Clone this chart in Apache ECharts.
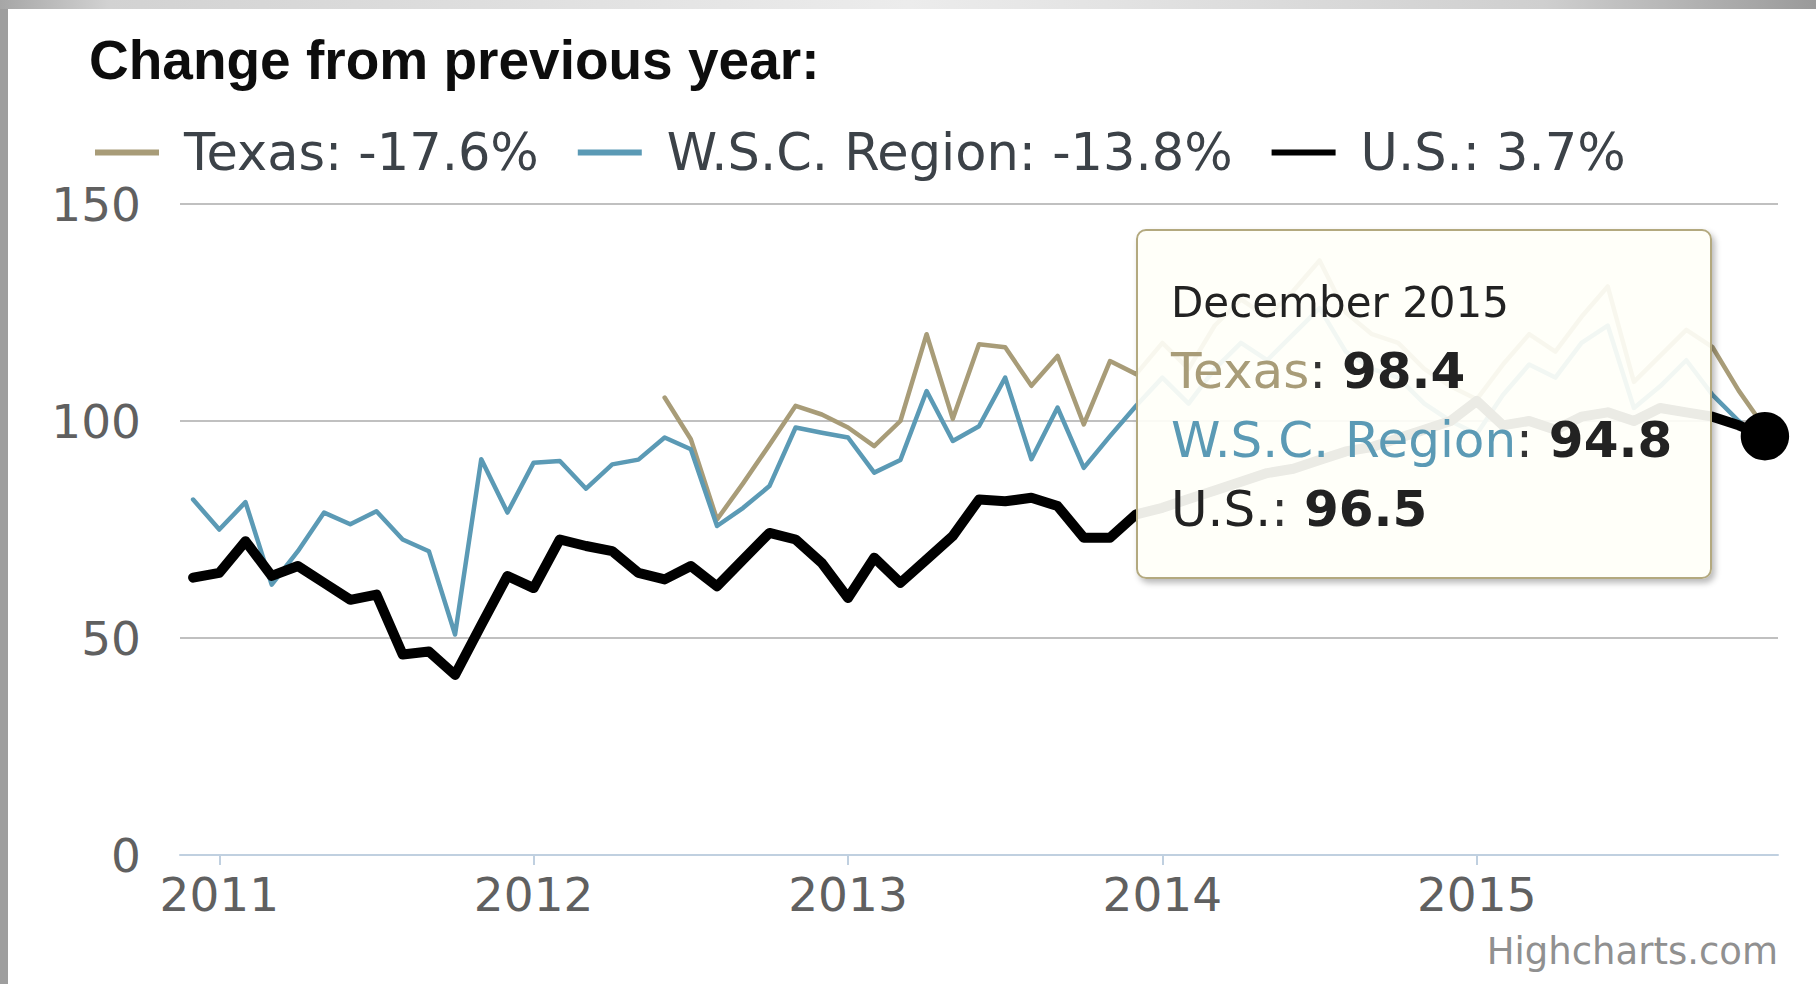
<!DOCTYPE html>
<html>
<head>
<meta charset="utf-8">
<script src="https://cdn.jsdelivr.net/npm/echarts@6/dist/echarts.min.js"></script>
<style>
  html, body { margin: 0; padding: 0; background: #ffffff; }
  #chart { width: 1816px; height: 984px; }
</style>
</head>
<body>
<div id="chart"></div>
<script>
// ---------- data ----------
const startYear = 2010;
const startMonth = 11; // December (0-based)
const monthNames = ['January','February','March','April','May','June','July','August','September','October','November','December'];
const seriesNames = ['Texas', 'W.S.C. Region', 'U.S.'];
const yearChange = ['-17.6%', '-13.8%', '3.7%'];

const texas = [null, null, null, null, null, null, null, null, null, null, null, null,
  null, null, null, null, null, null,
  105.4, 95.8, 77.3, 85.7, 94.5, 103.5, 101.5, 98.5, 94.2, 100.0, 120.0, 100.5,
  117.7, 117.0, 108.1, 115.0, 99.2, 113.8, 110.8, 118, 112, 122, 128, 124,
  130, 137, 125, 120, 118, 112, 108, 105, 113, 120, 116, 124,
  131, 109, 115, 121, 117, 107, 98.4];
const wsc = [81.9, 75.0, 81.3, 62.3, 70.0, 78.9, 76.2, 79.2, 72.7, 70.0, 50.8, 91.2,
  78.9, 90.4, 90.8, 84.4, 90.0, 91.1, 96.2, 93.5, 75.8, 80.0, 85.0, 98.5,
  97.3, 96.2, 88.1, 91.0, 106.9, 95.4, 98.8, 110.0, 91.2, 103.1, 89.2, 96.5,
  103.5, 110, 104, 112, 118, 114, 120, 126, 116, 112, 110, 104,
  100, 97, 106, 113, 110, 118, 122, 103, 108, 114, 106, 100, 94.8];
const us = [63.9, 65.0, 72.3, 64.3, 66.6, 62.7, 58.8, 60.0, 46.2, 46.9, 41.5, 53.0,
  64.3, 61.5, 72.7, 71.2, 70.0, 65.0, 63.5, 66.6, 61.9, 68.1, 74.2, 72.7,
  67.3, 59.2, 68.5, 62.7, 68.1, 73.5, 81.9, 81.5, 82.3, 80.4, 73.1, 73.1,
  78.5, 80, 82, 84, 86, 88, 89, 91, 93, 94, 96, 98,
  100, 104.6, 99, 100, 98, 101, 102, 100, 103, 102, 101, 99, 96.5];
const yMin = 0, yMax = 150, yStep = 50;

// month categories (December 2010 ... December 2015)
const categories = [];
for (let k = 0; k < us.length; k++) {
  const m = (startMonth + k) % 12;
  const y = startYear + Math.floor((startMonth + k) / 12);
  categories.push(monthNames[m] + ' ' + y);
}
const lastIndex = us.length - 1;

// ---------- chart ----------
const FONT = '"DejaVu Sans", Verdana, sans-serif';
const CSSFONT = "'DejaVu Sans', Verdana, sans-serif";
const colors = ['#a89c78', '#5b9ab5', '#000000'];
const isJanuary = (idx, val) => String(val).indexOf('January') === 0;

const chart = echarts.init(document.getElementById('chart'), null, { renderer: 'svg' });

chart.setOption({
  animation: false,
  backgroundColor: '#ffffff',
  color: colors,
  title: {
    text: 'Change from previous year:',
    left: 84,
    top: 27,
    textStyle: { fontFamily: '"Liberation Sans", Arial, sans-serif', fontSize: 55, fontWeight: 'bold', color: '#0d0d0d' }
  },
  legend: {
    left: 90,
    top: 122,
    icon: 'rect',
    itemWidth: 64,
    itemHeight: 6,
    itemGap: 39,
    selectedMode: false,
    data: seriesNames,
    textStyle: { fontFamily: FONT, fontSize: 51, color: '#3c4248', padding: [0, 0, 0, 20] },
    formatter: function (name) { return name + ': ' + yearChange[seriesNames.indexOf(name)]; }
  },
  grid: { left: 180, right: 38, top: 204, bottom: 129 },
  xAxis: {
    type: 'category',
    data: categories,
    boundaryGap: true,
    axisLine: { lineStyle: { color: '#c0d0e0', width: 2 } },
    axisTick: { show: true, alignWithLabel: true, interval: isJanuary, length: 10, lineStyle: { color: '#c0d0e0', width: 2 } },
    axisLabel: {
      interval: isJanuary,
      formatter: function (val) { return val.split(' ')[1]; },
      fontFamily: FONT, fontSize: 47, color: '#606060', margin: 16
    },
    splitLine: { show: false }
  },
  yAxis: {
    type: 'value',
    min: yMin, max: yMax, interval: yStep,
    axisLine: { show: false },
    axisTick: { show: false },
    axisLabel: { fontFamily: FONT, fontSize: 47, color: '#606060', margin: 39 },
    splitLine: { lineStyle: { color: '#c0c0c0', width: 2 } }
  },
  tooltip: {
    trigger: 'axis',
    alwaysShowContent: true,
    transitionDuration: 0,
    showDelay: 0,
    axisPointer: { type: 'none' },
    position: [1136, 229],
    backgroundColor: 'rgba(255,255,249,0.92)',
    borderColor: '#b3a97f',
    borderWidth: 2,
    padding: [37, 16, 0, 33],
    extraCssText: 'width:576px;height:350px;box-sizing:border-box;border-radius:10px;box-shadow:3px 4px 6px rgba(0,0,0,0.28);white-space:nowrap;',
    textStyle: { fontFamily: FONT },
    formatter: function (params) {
      let s = '<div style="font-family:' + CSSFONT + ';font-size:42px;line-height:69px;color:#222">' + params[0].axisValue + '</div>';
      params.forEach(function (p) {
        s += '<div style="font-family:' + CSSFONT + ';font-size:50px;line-height:69px">' +
          '<span style="color:' + (p.seriesIndex === 2 ? '#222' : p.color) + '">' + p.seriesName + '</span>' +
          '<span style="color:#333">: </span><b style="color:#222">' + p.value + '</b></div>';
      });
      return s;
    }
  },
  series: [
    {
      name: seriesNames[0], type: 'line', data: texas,
      showSymbol: false, connectNulls: false,
      lineStyle: { color: colors[0], width: 4.5, join: 'round', cap: 'round' },
      itemStyle: { color: colors[0] },
      emphasis: { disabled: true }
    },
    {
      name: seriesNames[1], type: 'line', data: wsc,
      showSymbol: false,
      lineStyle: { color: colors[1], width: 4.5, join: 'round', cap: 'round' },
      itemStyle: { color: colors[1] },
      emphasis: { disabled: true }
    },
    {
      name: seriesNames[2], type: 'line', data: us,
      showSymbol: true,
      symbol: function (val, p) { return p.dataIndex === lastIndex ? 'circle' : 'none'; },
      symbolSize: 44,
      lineStyle: { color: colors[2], width: 10, join: 'round', cap: 'round' },
      itemStyle: { color: '#000000' },
      emphasis: { disabled: true }
    }
  ],
  graphic: [
    { type: 'rect', left: 0, top: 0, shape: { width: 8, height: 984 }, style: { fill: '#9e9e9e' }, silent: true },
    { type: 'rect', left: 0, top: 0, shape: { width: 1816, height: 9 }, silent: true,
      style: { fill: new echarts.graphic.LinearGradient(0, 0, 1, 0, [
        { offset: 0, color: '#a6a6a6' }, { offset: 0.06, color: '#d2d2d2' },
        { offset: 0.5, color: '#ececec' }, { offset: 0.85, color: '#cfcfcf' }, { offset: 1, color: '#9a9a9a' }]) } },
    { type: 'text', right: 38, top: 933, silent: true,
      style: { text: 'Highcharts.com', fontFamily: FONT, fontSize: 37, fill: '#909090' } }
  ]
});

chart.dispatchAction({ type: 'showTip', seriesIndex: 2, dataIndex: lastIndex });
</script>
</body>
</html>
